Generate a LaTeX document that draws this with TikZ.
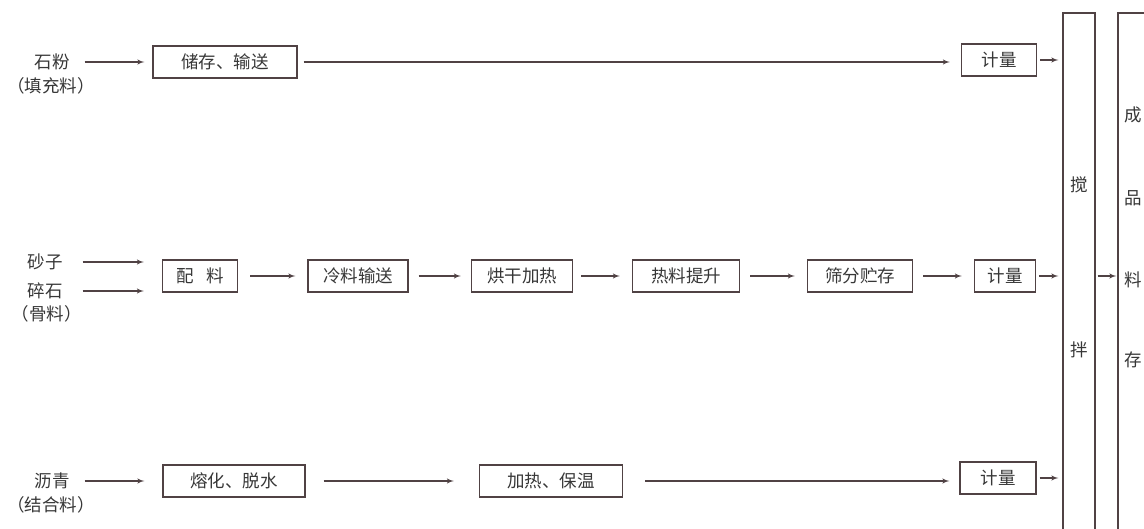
\documentclass[tikz,border=0pt]{standalone}
\usepackage{fontspec}
\newfontfamily\cjk{Noto Sans CJK SC}
\usetikzlibrary{arrows}

\definecolor{ink}{RGB}{80,66,68}
\definecolor{txt}{RGB}{55,55,55}

\begin{document}
\begin{tikzpicture}[x=1pt, y=-1pt, >=latex',
  every node/.style={font=\cjk\fontsize{17.5}{20}\selectfont, text=txt, inner sep=0pt},
  box/.style={draw=ink, line width=1.2pt, minimum height=32pt},
  tall/.style={draw=ink, line width=1.2pt, minimum height=580pt},
  flow/.style={draw=ink, line width=1.4pt}]
  \useasboundingbox (0,0) rectangle (1144,529);
  \clip (0,0) rectangle (1144,529);

  % filler row
  \node (filler)  at (52,62)  {石粉};
  \node (fillerb) at (51,86)  {（填充料）};
  \node[box, minimum width=144pt] (store)  at (225,62) {储存、输送};
  \node[box, minimum width=75pt]  (meter1) at (999,60) {计量};

  % aggregate row
  \node (sand)   at (45,262) {砂子};
  \node (gravel) at (45,291) {碎石};
  \node (aggr)   at (47,314) {（骨料）};
  \node[box, minimum width=75pt]  (batch)  at (200,276) {配\hspace{0.7em}料};
  \node[box, minimum width=100pt] (cold)   at (358,276) {冷料输送};
  \node[box, minimum width=101pt] (dry)    at (522,276) {烘干加热};
  \node[box, minimum width=107pt] (lift)   at (686,276) {热料提升};
  \node[box, minimum width=105pt] (screen) at (860,276) {筛分贮存};
  \node[box, minimum width=61pt]  (meter2) at (1005,276) {计量};

  % binder row
  \node (asphalt) at (52,481) {沥青};
  \node (asphb)   at (51,505) {（结合料）};
  \node[box, minimum width=142pt] (melt)   at (234,481) {熔化、脱水};
  \node[box, minimum width=143pt] (heat)   at (551,481) {加热、保温};
  \node[box, minimum width=76pt]  (meter3) at (998,478) {计量};

  % mixer and product
  \node[tall, minimum width=32pt] (mix)  at (1079,303) {};
  \node[tall, minimum width=62pt] (prod) at (1149,303) {};
  \node (mixa) at (1079,185) {搅};
  \node (mixb) at (1079,350) {拌};
  \node (proda) at (1133,115) {成};
  \node (prodb) at (1133,198) {品};
  \node (prodc) at (1133,280) {料};
  \node (prodd) at (1133,360) {存};

  \path[->, every edge/.style=flow]
  (filler.east)  edge[shorten <=15pt, shorten >=8pt]  (filler.east -| store.west)
  (store.east)   edge[shorten <=6pt, shorten >=11pt]  (store.east -| meter1.west)
  (meter1.east)  edge[shorten <=3pt, shorten >=4pt]   (meter1.east -| mix.west)
  (sand.east)    edge[shorten <=20pt, shorten >=18pt] (sand.east -| batch.west)
  (gravel.east)  edge[shorten <=20pt, shorten >=18pt] (gravel.east -| batch.west)
  (batch)        edge[shorten <=12pt, shorten >=12pt] (cold)
  (cold)         edge[shorten <=10pt, shorten >=10pt] (dry)
  (dry)          edge[shorten <=8pt, shorten >=12pt]  (lift)
  (lift)         edge[shorten <=10pt, shorten >=12pt] (screen)
  (screen)       edge[shorten <=10pt, shorten >=12pt] (meter2)
  (meter2.east)  edge[shorten <=3pt, shorten >=4pt]   (meter2.east -| mix.west)
  (mix.east |- meter2) edge[shorten <=2pt, shorten >=1pt] (prod.west |- meter2)
  (asphalt.east) edge[shorten <=15pt, shorten >=18pt] (asphalt.east -| melt.west)
  (melt)         edge[shorten <=18pt, shorten >=25pt] (heat)
  (heat.east)    edge[shorten <=22pt, shorten >=10pt] (heat.east -| meter3.west)
  (meter3.east)  edge[shorten <=3pt, shorten >=4pt]   (meter3.east -| mix.west)
  ;
\end{tikzpicture}
\end{document}
